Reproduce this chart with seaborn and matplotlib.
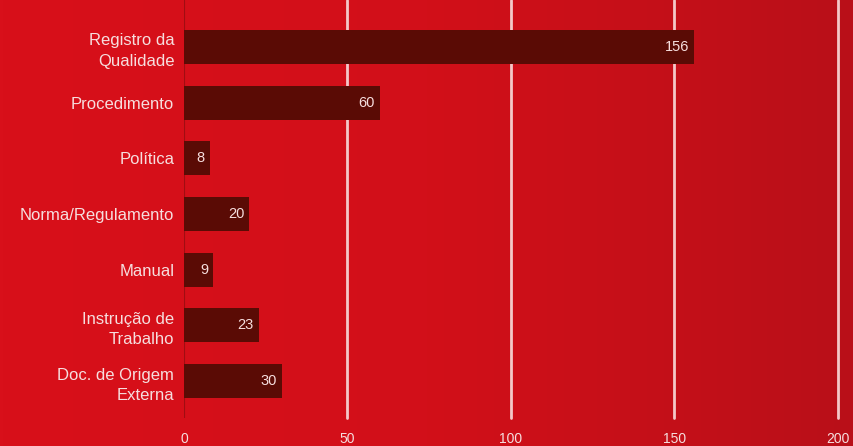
import matplotlib
matplotlib.use("Agg")
import matplotlib.pyplot as plt
import seaborn as sns
import pandas as pd
import numpy as np
from matplotlib.colors import LinearSegmentedColormap

categories = ["Registro da\nQualidade", "Procedimento", "Política", "Norma/Regulamento",
              "Manual", "Instrução de\nTrabalho", "Doc. de Origem\nExterna"]
values = [156, 60, 8, 20, 9, 23, 30]
xticks = [0, 50, 100, 150, 200]

sns.set_theme(style="white")
plt.rcParams['font.family'] = ['Liberation Sans', 'DejaVu Sans']

bg = "#d40f19"
txt = "#f6dede"
df = pd.DataFrame({"cat": categories, "val": values})

fig = plt.figure(figsize=(8.54, 4.46), dpi=100)
fig.patch.set_facecolor(bg)
gax = fig.add_axes([0, 0, 1, 1], zorder=-10)
grad = np.linspace(0, 1, 256)[None, :]
cmap = LinearSegmentedColormap.from_list("g", ["#d8101a", "#d20f19", "#b90f18"])
gax.imshow(grad, aspect="auto", cmap=cmap, extent=[0, 1, 0, 1])
gax.axis("off")

ax = fig.add_axes([184/854, 28/446, (838-184)/854, 418/446])
ax.patch.set_alpha(0)
sns.barplot(data=df, y="cat", x="val", color="#5a0b05", width=0.61, ax=ax,
            saturation=1, edgecolor="none")
ax.set_xlim(0, 200)
ax.set_ylim(6.66, -0.84)
for x in xticks[1:]:
    ax.axvline(x, color="#f4c8c8", lw=2, zorder=0.5, clip_on=False)
ax.axvline(0, color="#a00d12", lw=1.5, zorder=0.5)
for i, v in enumerate(values):
    ax.text(v - 1.6, i, str(v), ha="right", va="center", color=txt, fontsize=10.5)
ax.set_xticks(xticks)
ax.set_xticklabels([str(t) for t in xticks], color=txt, fontsize=10)
ax.tick_params(axis="x", length=0, pad=10)
ax.tick_params(axis="y", length=0, pad=7, colors=txt, labelsize=12)
for lab in ax.get_yticklabels():
    lab.set_horizontalalignment("right")
    lab.set_multialignment("right")
    lab.set_linespacing(1.45)
ax.set_xlabel("")
ax.set_ylabel("")
for s in ax.spines.values():
    s.set_visible(False)

fig.savefig("out.png", dpi=100, facecolor=bg)
